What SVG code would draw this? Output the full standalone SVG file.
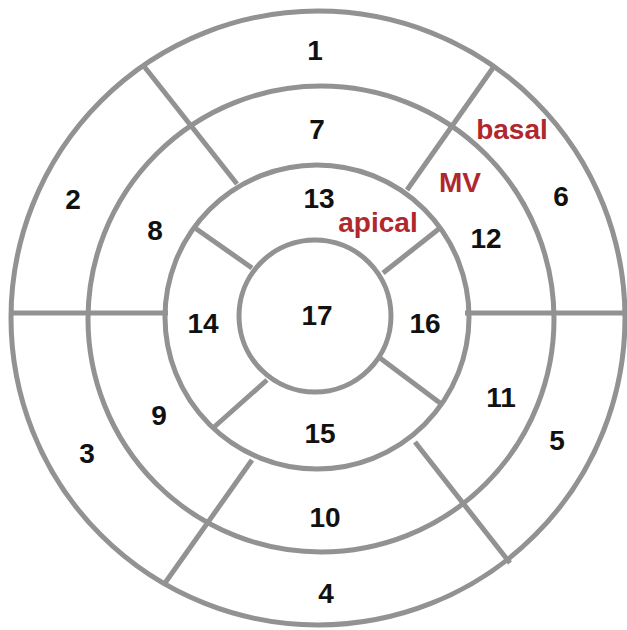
<svg xmlns="http://www.w3.org/2000/svg" width="627" height="630" viewBox="0 0 627 630">
<style>
.ring{fill:none;stroke:#929292;stroke-width:5}
.div{stroke:#929292;stroke-width:5;stroke-linecap:butt}
.num{font-family:"Liberation Sans",Arial,sans-serif;font-weight:bold;font-size:28px;fill:#111;text-anchor:middle}
.red{font-family:"Liberation Sans",Arial,sans-serif;font-weight:bold;font-size:28px;fill:#b0282e;text-anchor:middle}
</style>
<rect width="627" height="630" fill="#fff"/>
<g id="rings">
<circle class="ring" cx="318" cy="318" r="307"/>
<circle class="ring" cx="321" cy="319" r="233"/>
<circle class="ring" cx="317" cy="317" r="152"/>
<circle class="ring" cx="315" cy="316" r="76"/>
</g>
<g id="dividers">
<line class="div" x1="13" y1="313" x2="168" y2="313"/>
<line class="div" x1="465" y1="313" x2="627" y2="313"/>
<line class="div" x1="143" y1="65" x2="237" y2="184"/>
<line class="div" x1="495" y1="65" x2="407" y2="190"/>
<line class="div" x1="252" y1="460" x2="165" y2="583"/>
<line class="div" x1="415" y1="442" x2="510" y2="563"/>
<line class="div" x1="195" y1="228" x2="252" y2="268"/>
<line class="div" x1="440" y1="228" x2="383" y2="273"/>
<line class="div" x1="380" y1="358" x2="440" y2="403"/>
<line class="div" x1="267" y1="380" x2="213" y2="428"/>
</g>
<g id="seg1"><text class="num" x="315" y="60">1</text></g>
<g id="seg2"><text class="num" x="73" y="209">2</text></g>
<g id="seg3"><text class="num" x="87" y="463">3</text></g>
<g id="seg4"><text class="num" x="326" y="603">4</text></g>
<g id="seg5"><text class="num" x="557" y="450">5</text></g>
<g id="seg6"><text class="num" x="561" y="206">6</text></g>
<g id="seg7"><text class="num" x="317" y="139">7</text></g>
<g id="seg8"><text class="num" x="155" y="240">8</text></g>
<g id="seg9"><text class="num" x="159" y="425">9</text></g>
<g id="seg10"><text class="num" x="325" y="527">10</text></g>
<g id="seg11"><text class="num" x="501" y="407">11</text></g>
<g id="seg12"><text class="num" x="486" y="248">12</text></g>
<g id="seg13"><text class="num" x="319" y="208">13</text></g>
<g id="seg14"><text class="num" x="203" y="333">14</text></g>
<g id="seg15"><text class="num" x="320" y="443">15</text></g>
<g id="seg16"><text class="num" x="425" y="333">16</text></g>
<g id="seg17"><text class="num" x="317" y="325">17</text></g>
<g id="label-basal"><text class="red" x="512" y="139">basal</text></g>
<g id="label-mv"><text class="red" x="460" y="192">MV</text></g>
<g id="label-apical"><text class="red" x="378" y="232">apical</text></g>
</svg>
